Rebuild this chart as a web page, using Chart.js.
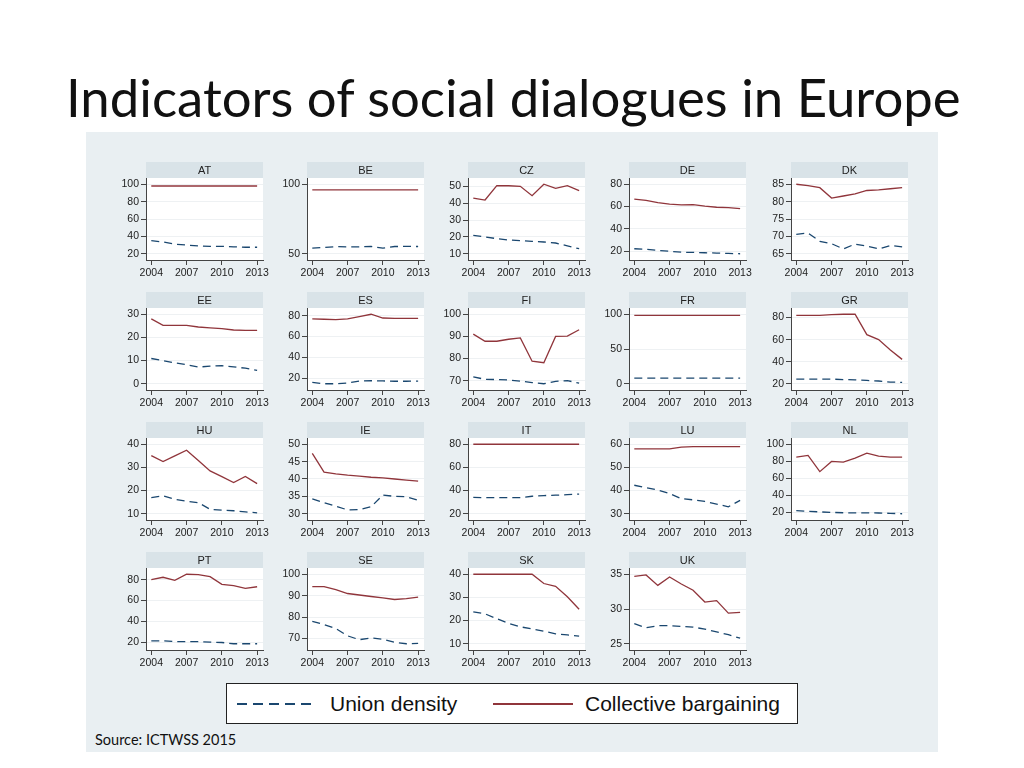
<!DOCTYPE html>
<html>
<head>
<meta charset="utf-8">
<script src="https://cdn.jsdelivr.net/npm/chart.js@4.4.0/dist/chart.umd.min.js"></script>
<style>
  body { margin: 0; width: 1024px; height: 768px; background: #fff; position: relative; overflow: hidden; font-family: "Liberation Sans", Arial, sans-serif; }
  #title { position: absolute; left: 66px; top: 71px; font-family: Lato, sans-serif; font-size: 52.7px; line-height: 1; color: #111; white-space: nowrap; }
  #bg { position: absolute; left: 86px; top: 132px; width: 852px; height: 620px; background: #e9eff2; }
  canvas { position: absolute; }
  #legend { position: absolute; left: 226px; top: 683px; width: 570px; height: 39px; background: #fff; border: 1px solid #222; }
  #legend svg { position: absolute; left: 0; top: 0; }
  #legend span { position: absolute; top: 8px; font-size: 21px; color: #111; }
  #source { position: absolute; left: 95px; top: 731px; font-family: Lato, sans-serif; font-size: 14.5px; color: #111; }
</style>
</head>
<body>
<div id="title">Indicators of social dialogues in Europe</div>
<div id="bg"></div>
<div id="legend">
  <svg width="570" height="39">
    <line x1="10" y1="20" x2="90" y2="20" stroke="#1a476f" stroke-width="2" stroke-dasharray="10,6"/>
    <line x1="266" y1="20" x2="346" y2="20" stroke="#90353b" stroke-width="2"/>
  </svg>
  <span style="left:103px">Union density</span>
  <span style="left:358px">Collective bargaining</span>
</div>
<div id="source">Source: ICTWSS 2015</div>
<script>
const years = [2004, 2005, 2006, 2007, 2008, 2009, 2010, 2011, 2012, 2013];
const yearTicks = [2004, 2007, 2010, 2013];

// union density (ud) and collective bargaining coverage (cb)
const udAT = [35, 33.5, 31, 30, 29, 28.5, 28.5, 28, 27.5, 27.5];
const cbAT = [98, 98, 98, 98, 98, 98, 98, 98, 98, 98];
const tkAT = [20, 40, 60, 80, 100];

const udBE = [54.1, 54.5, 55.1, 55, 55, 55.2, 54, 55.2, 55.3, 55.2];
const cbBE = [96, 96, 96, 96, 96, 96, 96, 96, 96, 96];
const tkBE = [50, 100];

const udCZ = [21, 20, 19, 18.2, 17.8, 17.4, 17, 16.4, 14.7, 13];
const cbCZ = [43.2, 42, 50.6, 50.5, 50.2, 44.6, 51.4, 49, 50.6, 47.6];
const tkCZ = [10, 20, 30, 40, 50];

const udDE = [22.2, 21.7, 20.7, 19.9, 19.1, 18.9, 18.6, 18.3, 18, 17.7];
const cbDE = [66.7, 65.5, 63.5, 62.1, 61.5, 61.8, 60.3, 59.4, 59, 58.2];
const tkDE = [20, 40, 60, 80];

const udDK = [70.6, 71, 68.6, 67.9, 66.4, 67.8, 67.2, 66.4, 67.4, 67];
const cbDK = [85.1, 84.7, 84.1, 81.1, 81.7, 82.3, 83.3, 83.5, 83.8, 84.1];
const tkDK = [65, 70, 75, 80, 85];

const udEE = [10.9, 10, 9, 8.2, 7.2, 7.6, 7.8, 7.3, 6.7, 5.8];
const cbEE = [28, 25.2, 25.2, 25.2, 24.5, 24.1, 23.8, 23.2, 23, 23];
const tkEE = [0, 10, 20, 30];

const udES = [16.1, 14.8, 14.8, 15.5, 17.4, 17.7, 17.5, 17.2, 17.2, 17.4];
const cbES = [76.8, 76.5, 76.1, 76.8, 79, 81.3, 77.7, 77.4, 77.4, 77.4];
const tkES = [20, 40, 60, 80];

const udFI = [71.7, 70.6, 70.5, 70.3, 69.8, 69.1, 68.6, 69.7, 70, 68.9];
const cbFI = [91, 87.8, 87.8, 88.7, 89.3, 78.8, 78.1, 90, 90.1, 93];
const tkFI = [70, 80, 90, 100];

const udFR = [8, 8, 8, 8, 8, 8, 8, 8, 8, 8];
const cbFR = [98.5, 98.5, 98.5, 98.5, 98.5, 98.5, 98.5, 98.5, 98.5, 98.5];
const tkFR = [0, 50, 100];

const udGR = [24.2, 24.2, 24.2, 24.2, 23.8, 23.5, 23, 22.5, 21.5, 21.3];
const cbGR = [82, 82, 82, 82.7, 83, 83, 64.5, 60, 50.5, 42.1];
const tkGR = [20, 40, 60, 80];

const udHU = [17, 17.7, 16.2, 15.4, 14.8, 11.9, 11.6, 11.3, 10.8, 10.4];
const cbHU = [35.1, 32.5, 35, 37.4, 33, 28.5, 26, 23.5, 26.1, 23];
const tkHU = [10, 20, 30, 40];

const udIE = [34.3, 33.2, 32.2, 31.1, 31.2, 32, 35.4, 35, 34.9, 33.9];
const cbIE = [47.4, 42, 41.5, 41.1, 40.8, 40.5, 40.3, 40, 39.7, 39.4];
const tkIE = [30, 35, 40, 45, 50];

const udIT = [34.2, 33.9, 33.9, 33.9, 33.9, 35.1, 35.7, 36, 36.5, 37];
const cbIT = [80, 80, 80, 80, 80, 80, 80, 80, 80, 80];
const tkIT = [20, 40, 60, 80];

const udLU = [42.3, 41.3, 40.2, 38.7, 36.5, 36, 35.3, 34.2, 33, 35.8];
const cbLU = [58, 58, 58, 58, 58.8, 59, 59, 59, 59, 59];
const tkLU = [30, 40, 50, 60];

const udNL = [21.6, 21, 20.2, 19.6, 19.2, 19, 19, 18.9, 18.5, 18];
const cbNL = [84.9, 86.9, 67.7, 79.7, 78.9, 83.7, 89.6, 86.1, 84.9, 84.9];
const tkNL = [20, 40, 60, 80, 100];

const udPT = [21.3, 21.3, 20.6, 20.6, 20.6, 20, 19.7, 18.5, 18.5, 18.5];
const cbPT = [80, 82.3, 79.4, 85.2, 84.8, 82.9, 75.5, 74.2, 71.6, 73.2];
const tkPT = [20, 40, 60, 80];

const udSE = [78, 76.5, 74.6, 71.2, 69.4, 70.2, 69.6, 68.2, 67.5, 67.7];
const cbSE = [94.2, 94.2, 92.8, 91, 90.3, 89.6, 89, 88.2, 88.6, 89.3];
const tkSE = [70, 80, 90, 100];

const udSK = [23.8, 22.9, 20.8, 18.8, 17.3, 16.4, 15.4, 14.3, 13.8, 13.3];
const cbSK = [40, 40, 40, 40, 40, 40, 36, 34.8, 30.3, 24.9];
const tkSK = [10, 20, 30, 40];

const udUK = [27.9, 27.3, 27.6, 27.6, 27.5, 27.4, 27.1, 26.7, 26.3, 25.8];
const cbUK = [34.7, 34.9, 33.4, 34.6, 33.6, 32.7, 31, 31.2, 29.4, 29.5];
const tkUK = [25, 30, 35];

const panels = [
  ['AT', udAT, cbAT, tkAT], ['BE', udBE, cbBE, tkBE], ['CZ', udCZ, cbCZ, tkCZ], ['DE', udDE, cbDE, tkDE], ['DK', udDK, cbDK, tkDK],
  ['EE', udEE, cbEE, tkEE], ['ES', udES, cbES, tkES], ['FI', udFI, cbFI, tkFI], ['FR', udFR, cbFR, tkFR], ['GR', udGR, cbGR, tkGR],
  ['HU', udHU, cbHU, tkHU], ['IE', udIE, cbIE, tkIE], ['IT', udIT, cbIT, tkIT], ['LU', udLU, cbLU, tkLU], ['NL', udNL, cbNL, tkNL],
  ['PT', udPT, cbPT, tkPT], ['SE', udSE, cbSE, tkSE], ['SK', udSK, cbSK, tkSK], ['UK', udUK, cbUK, tkUK]
];

const NAVY = '#1a476f', MAROON = '#90353b';
const AXIS_W = 45, X_H = 20, STRIP_H = 16, PLOT_W = 117, PLOT_H = 82, RIGHT_PAD = 20;
const COL0 = 145.5, COL_STEP = 161.3, ROW0 = 162, ROW_STEP = 130;
const tickFont = { family: '"Liberation Sans", Arial, sans-serif', size: 10.5 };

function stripPlugin(name) {
  return {
    id: 'strip' + name,
    beforeDraw(chart) {
      const { ctx, chartArea: a } = chart;
      ctx.save();
      ctx.fillStyle = '#ffffff';
      ctx.fillRect(a.left, a.top, a.right - a.left, a.bottom - a.top);
      ctx.fillStyle = '#d9e3e8';
      ctx.fillRect(a.left, a.top - STRIP_H, a.right - a.left, STRIP_H);
      ctx.fillStyle = '#222';
      ctx.font = '11px "Liberation Sans", Arial, sans-serif';
      ctx.textAlign = 'center';
      ctx.textBaseline = 'middle';
      ctx.fillText(name, (a.left + a.right) / 2, a.top - STRIP_H / 2 + 0.5);
      ctx.restore();
    }
  };
}

panels.forEach(([name, ud, cb, ticks], i) => {
  const col = i % 5, row = Math.floor(i / 5);
  const cv = document.createElement('canvas');
  cv.width = AXIS_W + PLOT_W + RIGHT_PAD;
  cv.height = STRIP_H + PLOT_H + X_H;
  cv.style.left = Math.round(COL0 + col * COL_STEP - AXIS_W) + 'px';
  cv.style.top = (ROW0 + row * ROW_STEP) + 'px';
  document.body.appendChild(cv);

  const all = ud.concat(cb, ticks);
  const lo = Math.min(...all), hi = Math.max(...all), pad = (hi - lo) * 0.09;

  new Chart(cv, {
    type: 'line',
    data: {
      datasets: [
        { label: 'Union density', data: years.map((y, k) => ({ x: y, y: ud[k] })), borderColor: NAVY, borderWidth: 1.3, borderDash: [8, 5], pointRadius: 0, tension: 0 },
        { label: 'Collective bargaining', data: years.map((y, k) => ({ x: y, y: cb[k] })), borderColor: MAROON, borderWidth: 1.3, pointRadius: 0, tension: 0 }
      ]
    },
    options: {
      responsive: false,
      animation: false,
      layout: { padding: { top: STRIP_H, right: RIGHT_PAD, left: 0, bottom: 0 } },
      plugins: { legend: { display: false }, tooltip: { enabled: false } },
      scales: {
        x: {
          type: 'linear', min: 2003.55, max: 2013.5,
          afterBuildTicks: s => { s.ticks = yearTicks.map(v => ({ value: v })); },
          afterFit: s => { s.height = X_H; },
          grid: { drawOnChartArea: false, tickLength: 5, tickColor: '#444' },
          border: { color: '#444', width: 1 },
          ticks: { font: tickFont, color: '#222', padding: 2, maxRotation: 0, autoSkip: false, callback: v => String(v) }
        },
        y: {
          min: lo - pad, max: hi + pad,
          afterBuildTicks: s => { s.ticks = ticks.map(v => ({ value: v })); },
          afterFit: s => { s.width = AXIS_W; },
          grid: { color: '#eef1f3', tickLength: 5, tickColor: '#444' },
          border: { color: '#444', width: 1 },
          ticks: { font: tickFont, color: '#222', padding: 2, autoSkip: false, callback: v => String(v) }
        }
      }
    },
    plugins: [stripPlugin(name)]
  });
});
</script>
</body>
</html>
